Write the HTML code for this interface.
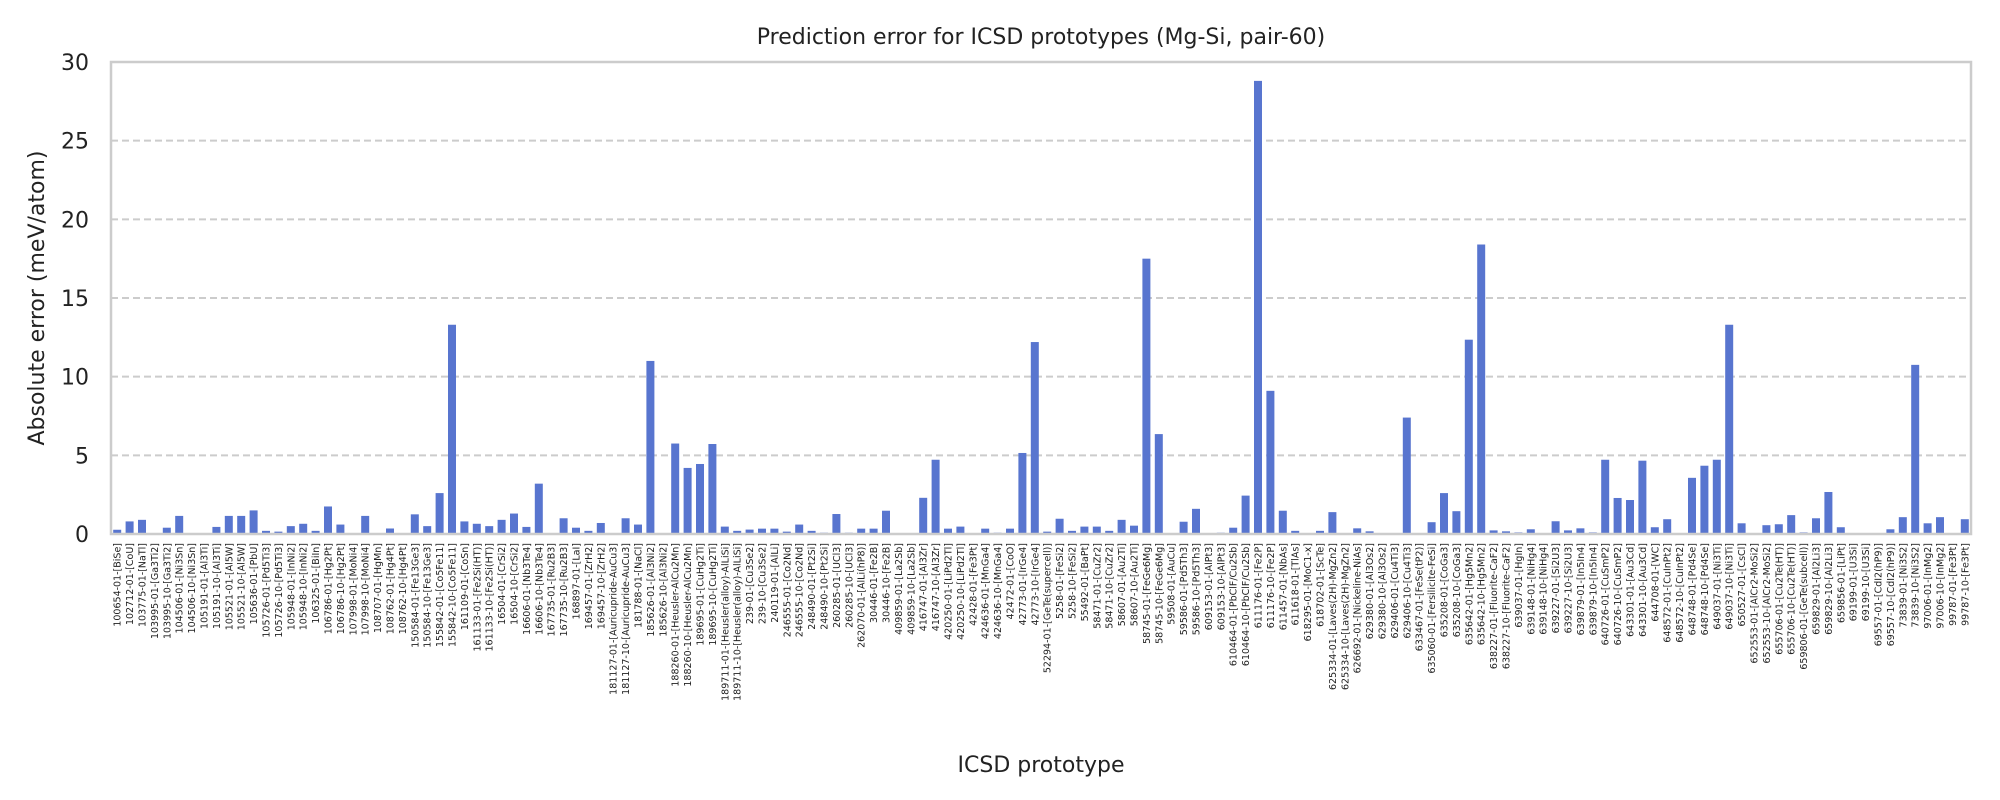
<!DOCTYPE html>
<html><head><meta charset="utf-8">
<style>
html,body{margin:0;padding:0;background:#fff;}
svg{display:block;font-family:"DejaVu Sans","Liberation Sans",sans-serif;}
</style></head>
<body>
<svg id="chart" width="2000" height="800" viewBox="0 0 2000 800" xmlns="http://www.w3.org/2000/svg">
<rect x="0" y="0" width="2000" height="800" fill="#fff"/>
<text x="1041" y="44" font-size="22" text-anchor="middle" fill="#222">Prediction error for ICSD prototypes (Mg-Si, pair-60)</text>
<g id="grid"></g>
<g id="bars"></g>
<g id="yticks"></g>
<g id="xticks"></g>
<rect x="111" y="62" width="1860" height="472" fill="none" stroke="#cccccc" stroke-width="2.5"/>
<text transform="translate(44,298) rotate(-90)" font-size="22" text-anchor="middle" fill="#222">Absolute error (meV/atom)</text>
<text x="1041" y="772" font-size="22" text-anchor="middle" fill="#222">ICSD prototype</text>
</svg>
<script>
const categories = ["100654-01-[BiSe]","102712-01-[CoU]","103775-01-[NaTl]","103995-01-[Ga3Ti2]","103995-10-[Ga3Ti2]","104506-01-[Ni3Sn]","104506-10-[Ni3Sn]","105191-01-[Al3Ti]","105191-10-[Al3Ti]","105521-01-[Al5W]","105521-10-[Al5W]","105636-01-[PbU]","105726-01-[Pd5Ti3]","105726-10-[Pd5Ti3]","105948-01-[InNi2]","105948-10-[InNi2]","106325-01-[BiIn]","106786-01-[Hg2Pt]","106786-10-[Hg2Pt]","107998-01-[MoNi4]","107998-10-[MoNi4]","108707-01-[HgMn]","108762-01-[Hg4Pt]","108762-10-[Hg4Pt]","150584-01-[Fe13Ge3]","150584-10-[Fe13Ge3]","155842-01-[Co5Fe11]","155842-10-[Co5Fe11]","161109-01-[CoSn]","161133-01-[Fe2Si(HT)]","161133-10-[Fe2Si(HT)]","16504-01-[CrSi2]","16504-10-[CrSi2]","16606-01-[Nb3Te4]","16606-10-[Nb3Te4]","167735-01-[Ru2B3]","167735-10-[Ru2B3]","168897-01-[LaI]","169457-01-[ZrH2]","169457-10-[ZrH2]","181127-01-[Auricupride-AuCu3]","181127-10-[Auricupride-AuCu3]","181788-01-[NaCl]","185626-01-[Al3Ni2]","185626-10-[Al3Ni2]","188260-01-[Heusler-AlCu2Mn]","188260-10-[Heusler-AlCu2Mn]","189695-01-[CuHg2Ti]","189695-10-[CuHg2Ti]","189711-01-[Heusler(alloy)-AlLiSi]","189711-10-[Heusler(alloy)-AlLiSi]","239-01-[Cu3Se2]","239-10-[Cu3Se2]","240119-01-[AlLi]","246555-01-[Co2Nd]","246555-10-[Co2Nd]","248490-01-[Pt2Si]","248490-10-[Pt2Si]","260285-01-[UCl3]","260285-10-[UCl3]","262070-01-[AlLi(hP8)]","30446-01-[Fe2B]","30446-10-[Fe2B]","409859-01-[La2Sb]","409859-10-[La2Sb]","416747-01-[Al3Zr]","416747-10-[Al3Zr]","420250-01-[LiPd2Tl]","420250-10-[LiPd2Tl]","42428-01-[Fe3Pt]","424636-01-[MnGa4]","424636-10-[MnGa4]","42472-01-[CoO]","42773-01-[IrGe4]","42773-10-[IrGe4]","52294-01-[GeTe(supercell)]","5258-01-[FeSi2]","5258-10-[FeSi2]","55492-01-[BaPt]","58471-01-[CuZr2]","58471-10-[CuZr2]","58607-01-[Au2Ti]","58607-10-[Au2Ti]","58745-01-[FeGe6Mg]","58745-10-[FeGe6Mg]","59508-01-[AuCu]","59586-01-[Pd5Th3]","59586-10-[Pd5Th3]","609153-01-[AlPt3]","609153-10-[AlPt3]","610464-01-[PbClF/Cu2Sb]","610464-10-[PbClF/Cu2Sb]","611176-01-[Fe2P]","611176-10-[Fe2P]","611457-01-[NbAs]","611618-01-[TlAs]","618295-01-[MoC1-x]","618702-01-[ScTe]","625334-01-[Laves(2H)-MgZn2]","625334-10-[Laves(2H)-MgZn2]","626692-01-[Nickeline-NiAs]","629380-01-[Al3Os2]","629380-10-[Al3Os2]","629406-01-[Cu4Ti3]","629406-10-[Cu4Ti3]","633467-01-[FeSe(tP2)]","635060-01-[Fersilicite-FeSi]","635208-01-[CoGa3]","635208-10-[CoGa3]","635642-01-[Hg5Mn2]","635642-10-[Hg5Mn2]","638227-01-[Fluorite-CaF2]","638227-10-[Fluorite-CaF2]","639037-01-[HgIn]","639148-01-[NiHg4]","639148-10-[NiHg4]","639227-01-[Si2U3]","639227-10-[Si2U3]","639879-01-[In5In4]","639879-10-[In5In4]","640726-01-[CuSmP2]","640726-10-[CuSmP2]","643301-01-[Au3Cd]","643301-10-[Au3Cd]","644708-01-[WC]","648572-01-[CuInPt2]","648572-10-[CuInPt2]","648748-01-[Pd4Se]","648748-10-[Pd4Se]","649037-01-[Ni3Ti]","649037-10-[Ni3Ti]","650527-01-[CsCl]","652553-01-[AlCr2-MoSi2]","652553-10-[AlCr2-MoSi2]","655706-01-[Cu2Te(HT)]","655706-10-[Cu2Te(HT)]","659806-01-[GeTe(subcell)]","659829-01-[Al2Li3]","659829-10-[Al2Li3]","659856-01-[LiPt]","69199-01-[U3Si]","69199-10-[U3Si]","69557-01-[CdI2(hP9)]","69557-10-[CdI2(hP9)]","73839-01-[Ni3S2]","73839-10-[Ni3S2]","97006-01-[InMg2]","97006-10-[InMg2]","99787-01-[Fe3Pt]","99787-10-[Fe3Pt]"];
const errors = [0.27,0.8,0.9,0,0.4,1.15,0.05,0,0.45,1.15,1.15,1.5,0.2,0.15,0.5,0.65,0.2,1.75,0.6,0,1.15,0,0.35,0.05,1.25,0.5,2.6,13.3,0.8,0.65,0.5,0.9,1.3,0.45,3.2,0.05,1.0,0.4,0.2,0.7,0,1.0,0.6,11.0,0.05,5.75,4.2,4.45,5.72,0.47,0.2,0.28,0.34,0.34,0.15,0.6,0.2,0.08,1.27,0.08,0.34,0.34,1.48,0,0,2.3,4.72,0.34,0.47,0,0.34,0.08,0.34,5.15,12.2,0.15,0.97,0.2,0.47,0.47,0.2,0.9,0.53,17.5,6.35,0,0.78,1.6,0,0.08,0.4,2.44,28.8,9.1,1.48,0.2,0,0.2,1.39,0,0.36,0.17,0,0.04,7.4,0,0.75,2.6,1.45,12.35,18.4,0.23,0.17,0.1,0.3,0.04,0.81,0.23,0.36,0.1,4.72,2.29,2.16,4.66,0.43,0.94,0,3.57,4.34,4.72,13.3,0.68,0.04,0.56,0.62,1.2,0.1,1.0,2.67,0.43,0,0.04,0,0.3,1.07,10.75,0.68,1.07,0,0.94];
const yTicks = [0,5,10,15,20,25,30];
const gridTicks = [5,10,15,20,25];

const NS = "http://www.w3.org/2000/svg";
const X0 = 111, X1 = 1971, Y0 = 534, YTOP = 62, YMAX = 30;
const step = (X1 - X0) / categories.length;
function xScale(i){ return X0 + step * (i + 0.5); }
function yScale(v){ return Y0 - (Y0 - YTOP) * v / YMAX; }

const grid = document.getElementById('grid');
gridTicks.forEach(t => {
  const l = document.createElementNS(NS,'line');
  l.setAttribute('x1', X0); l.setAttribute('x2', X1);
  l.setAttribute('y1', yScale(t)); l.setAttribute('y2', yScale(t));
  l.setAttribute('stroke','#cccccc'); l.setAttribute('stroke-width','2');
  l.setAttribute('stroke-dasharray','7,4');
  
  
  grid.appendChild(l);
});

const yt = document.getElementById('yticks');
yTicks.forEach(t => {
  const tx = document.createElementNS(NS,'text');
  tx.setAttribute('x', 89); tx.setAttribute('y', yScale(t) + 8);
  tx.setAttribute('font-size','22'); tx.setAttribute('text-anchor','end');
  tx.setAttribute('fill','#222');
  tx.textContent = t;
  
  
  yt.appendChild(tx);
});

const bars = document.getElementById('bars');
const xt = document.getElementById('xticks');
const bw = 8;
categories.forEach((c, i) => {
  const v = errors[i];
  const r = document.createElementNS(NS,'rect');
  r.setAttribute('x', xScale(i) - bw/2);
  r.setAttribute('y', yScale(v));
  r.setAttribute('width', bw);
  r.setAttribute('height', Math.max(0, Y0 - yScale(v)));
  r.setAttribute('fill', '#5875cf');
  
  
  bars.appendChild(r);

  const tx = document.createElementNS(NS,'text');
  const x = xScale(i) + 3.5, y = 543;
  tx.setAttribute('transform', `translate(${x},${y}) rotate(-90)`);
  tx.setAttribute('font-size','9.5');
  tx.setAttribute('text-anchor','end');
  tx.setAttribute('fill','#222');
  tx.textContent = c;
  
  
  xt.appendChild(tx);
});
</script>
</body></html>
